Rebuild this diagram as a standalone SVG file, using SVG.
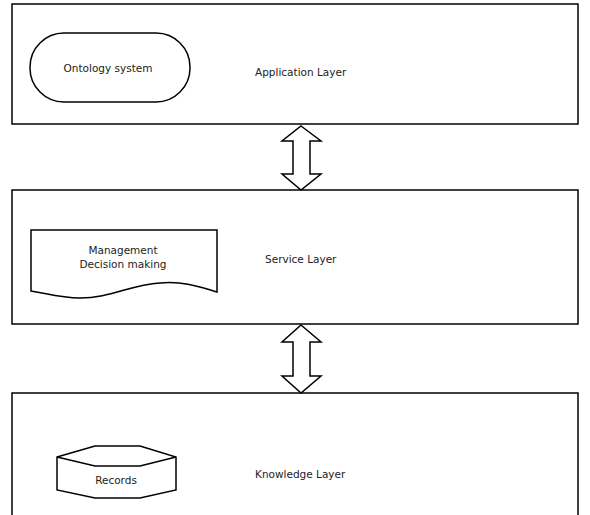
<svg xmlns="http://www.w3.org/2000/svg" width="590" height="515" viewBox="0 0 590 515">
<style>
.layer{fill:#fff;stroke:#000;stroke-width:1.5}
.shape{fill:#fff;stroke:#000;stroke-width:1.5}
.arrow{fill:#fff;stroke:#000;stroke-width:1.5;stroke-linejoin:miter}
text{font-family:"DejaVu Sans",Verdana,sans-serif;font-size:10.5px;fill:#222}
.c{text-anchor:middle}
</style>
<rect width="590" height="515" fill="#fff"/>
<g id="application-layer">
<rect class="layer" x="12" y="4" width="566" height="120"/>
<text x="255" y="76">Application Layer</text>
</g>
<g id="ontology-system">
<rect class="shape" x="30" y="33" width="160" height="69" rx="34" ry="34"/>
<text class="c" x="108" y="72">Ontology system</text>
</g>
<g id="service-layer">
<rect class="layer" x="12" y="190" width="566" height="134"/>
<text x="265" y="263">Service Layer</text>
</g>
<g id="management">
<path class="shape" d="M31,230 H217 V292 C200,287 185,281 160,283 C130,285 110,298 80,298 C60,298 45,293 31,291 Z"/>
<text class="c" x="123" y="254">Management</text>
<text class="c" x="123" y="268">Decision making</text>
</g>
<g id="knowledge-layer">
<rect class="layer" x="12" y="393" width="566" height="130"/>
<text x="255" y="478">Knowledge Layer</text>
</g>
<g id="records">
<path class="shape" d="M57,457 L95,446 H140 L176,457 V490 L140,498 H95 L57,490 Z"/>
<path class="shape" fill="none" d="M57,457 L95,466 H140 L176,457"/>
<text class="c" x="116" y="484">Records</text>
</g>
<g id="connectors">
<path class="arrow" d="M301,126 L321,141 H310 V174 H321 L301,190 L282,174 H293 V141 H282 Z"/>
<path class="arrow" d="M301,325 L321,342 H310 V376 H321 L301,393 L282,376 H293 V342 H282 Z"/>
</g>
</svg>
